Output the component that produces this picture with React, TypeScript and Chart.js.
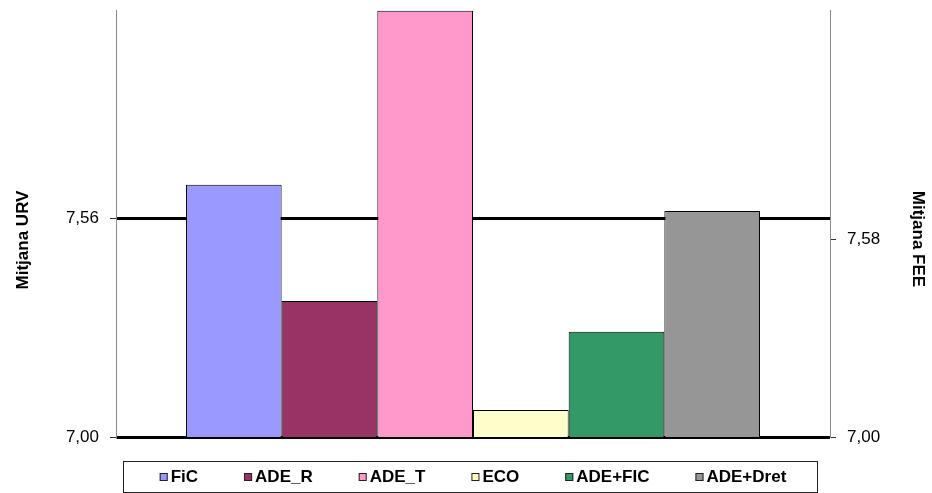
import React, { useEffect, useRef } from "react";
import { Chart, registerables } from "chart.js";

Chart.register(...registerables);

const categories = ["FiC", "ADE_R", "ADE_T", "ECO", "ADE+FIC", "ADE+Dret"];
const urvValues = [7.645, 7.348, 8.09, 7.069, 7.269, 7.578];
const barColors = ["#9999FF", "#993366", "#FF99CC", "#FFFFCC", "#339966", "#969696"];
const leftTicks = [7.0, 7.56];
const rightTicks = [7.0, 7.58];
const leftMin = 7.0;
const leftMax = 8.092;
const rightMin = 7.0;
const rightMax = 8.251;
const leftTitle = "Mitjana URV";
const rightTitle = "Mitjana FEE";

const FONT = "Arial, 'Liberation Sans', sans-serif";
const fmt = (v: number) => v.toFixed(2).replace(".", ",");

const titlesPlugin = {
  id: "axisTitles",
  afterDraw(chart: any) {
    const ctx = chart.ctx;
    ctx.save();
    ctx.font = `bold 17px ${FONT}`;
    ctx.fillStyle = "#000";
    ctx.textAlign = "center";
    ctx.textBaseline = "middle";
    ctx.translate(23, 240);
    ctx.rotate(-Math.PI / 2);
    ctx.fillText(leftTitle, 0, 0);
    ctx.restore();
    ctx.save();
    ctx.font = `bold 17px ${FONT}`;
    ctx.fillStyle = "#000";
    ctx.textAlign = "center";
    ctx.textBaseline = "middle";
    ctx.translate(918, 239);
    ctx.rotate(Math.PI / 2);
    ctx.fillText(rightTitle, 0, 0);
    ctx.restore();
  },
};

const legendPlugin = {
  id: "boxLegend",
  afterDraw(chart: any) {
    const ctx = chart.ctx;
    const boxL = 123, boxR = 817, boxT = 461, boxB = 492;
    ctx.save();
    ctx.strokeStyle = "#222";
    ctx.lineWidth = 1;
    ctx.strokeRect(boxL + 0.5, boxT + 0.5, boxR - boxL, boxB - boxT);
    ctx.font = `bold 17px ${FONT}`;
    ctx.textBaseline = "middle";
    const sq = 8, gap = 3, pad = 46;
    const ds = chart.data.datasets;
    const widths = ds.map((d: any) => sq + gap + ctx.measureText(d.label).width);
    const total = widths.reduce((a: number, b: number) => a + b, 0) + pad * (ds.length - 1);
    let x = (boxL + boxR) / 2 - total / 2 + 3;
    const cy = 477;
    ds.forEach((d: any, i: number) => {
      ctx.fillStyle = d.backgroundColor;
      ctx.fillRect(x, cy - sq / 2, sq, sq);
      ctx.strokeStyle = "#222";
      ctx.strokeRect(x + 0.5, cy - sq / 2 + 0.5, sq - 1, sq - 1);
      ctx.fillStyle = "#000";
      ctx.fillText(d.label, x + sq + gap, cy);
      x += widths[i] + pad;
    });
    ctx.restore();
  },
};

export default function App() {
  const ref = useRef<HTMLCanvasElement | null>(null);
  useEffect(() => {
    if (!ref.current) return;
    const chart = new Chart(ref.current, {
      type: "bar",
      data: {
        labels: [""],
        datasets: categories.map((c, i) => ({
          label: c,
          data: [urvValues[i]],
          backgroundColor: barColors[i],
          borderColor: "#000",
          borderWidth: 1,
          borderSkipped: false,
          categoryPercentage: 0.804,
          barPercentage: 1.0,
          yAxisID: "y",
        })),
      },
      options: {
        responsive: false,
        animation: false,
        layout: { padding: { top: 10, bottom: 56, left: 0, right: 0 } },
        plugins: { legend: { display: false }, tooltip: { enabled: false } },
        scales: {
          x: { display: false },
          y: {
            position: "left",
            min: leftMin,
            max: leftMax,
            afterBuildTicks: (s: any) => {
              s.ticks = leftTicks.map((v) => ({ value: v }));
            },
            afterFit: (s: any) => {
              s.width = 116;
              s.paddingTop = 0;
              s.paddingBottom = 0;
            },
            ticks: {
              callback: (v: any) => fmt(Number(v)),
              font: { family: FONT, size: 17 },
              color: "#000",
              padding: 11,
            },
            grid: {
              color: "#000",
              lineWidth: 3,
              tickColor: "#333",
              tickWidth: 1,
              tickLength: 6,
            },
            border: { color: "#888", width: 1 },
            title: { display: false },
          },
          y2: {
            position: "right",
            min: rightMin,
            max: rightMax,
            afterBuildTicks: (s: any) => {
              s.ticks = rightTicks.map((v) => ({ value: v }));
            },
            afterFit: (s: any) => {
              s.width = 102;
              s.paddingTop = 0;
              s.paddingBottom = 0;
            },
            ticks: {
              callback: (v: any) => fmt(Number(v)),
              font: { family: FONT, size: 17 },
              color: "#000",
              padding: 11,
            },
            grid: {
              drawOnChartArea: false,
              tickColor: "#333",
              tickWidth: 1,
              tickLength: 6,
            },
            border: { color: "#888", width: 1 },
            title: { display: false },
          },
        },
      },
      plugins: [legendPlugin, titlesPlugin],
    });
    return () => chart.destroy();
  }, []);
  return (
    <div style={{ position: "absolute", left: 0, top: 0, width: 932, height: 493, background: "#fff" }}>
      <canvas ref={ref} width={932} height={493} />
    </div>
  );
}
